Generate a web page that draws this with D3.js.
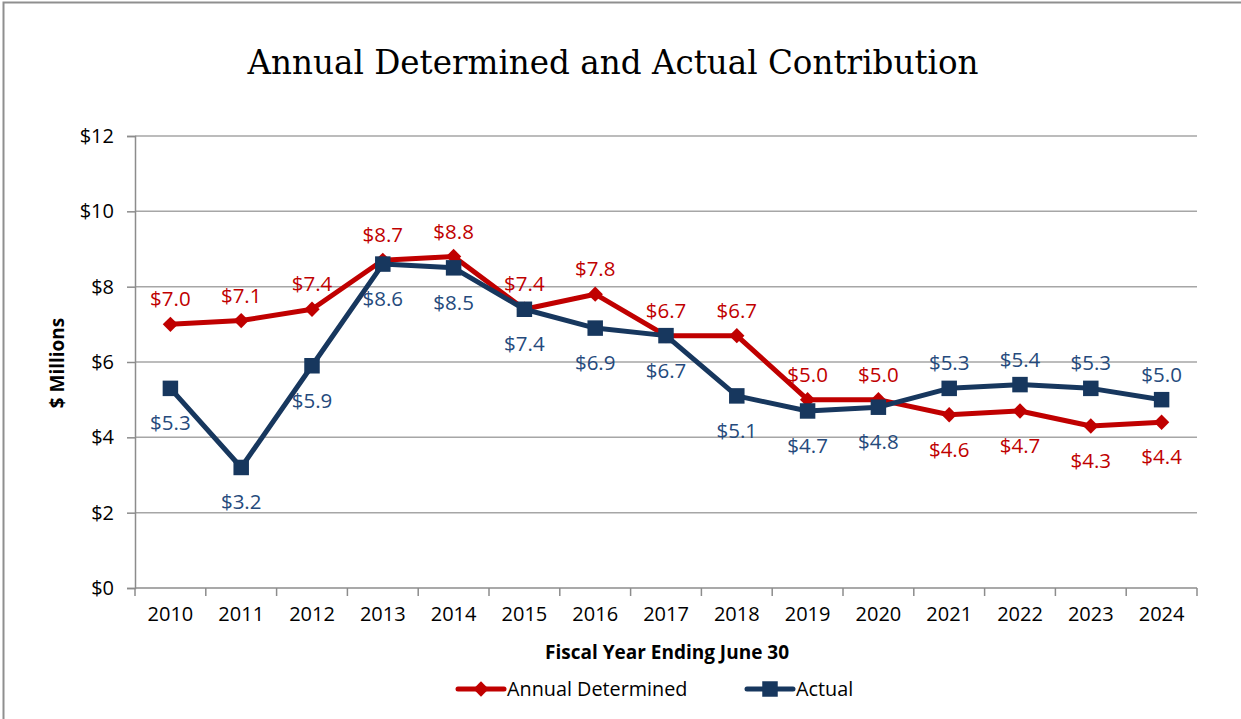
<!DOCTYPE html>
<html>
<head>
<meta charset="utf-8">
<script src="https://cdn.jsdelivr.net/npm/d3@7"></script>
<style>
  html, body { margin: 0; padding: 0; background: #fff; }
  svg { display: block; }
</style>
</head>
<body>
<svg id="chart" width="1241" height="719"></svg>
<script>
// Fiscal years and contribution amounts ($ millions)
const years = ["2010","2011","2012","2013","2014","2015","2016","2017","2018","2019","2020","2021","2022","2023","2024"];
const determined = [7.0, 7.1, 7.4, 8.7, 8.8, 7.4, 7.8, 6.7, 6.7, 5.0, 5.0, 4.6, 4.7, 4.3, 4.4];
const actual     = [5.3, 3.2, 5.9, 8.6, 8.5, 7.4, 6.9, 6.7, 5.1, 4.7, 4.8, 5.3, 5.4, 5.3, 5.0];
const yTicks = [0, 2, 4, 6, 8, 10, 12];
// which side of each point its value label sits on
const determinedLabelSide = ["up","up","up","up","up","up","up","up","up","up","up","down","down","down","down"];
const actualLabelSide     = ["down","down","down","down","down","down","down","down","down","down","down","up","up","up","up"];

const RED = "#C00000", NAVY = "#17375E", NAVY_TEXT = "#254A7C";
const FONT = "'Open Sans', sans-serif";
const svg = d3.select("#chart");
const margin = { left: 135, right: 1197, top: 136, bottom: 588 };

// outer frame
svg.append("rect").attr("x", 3.5).attr("y", 2.5).attr("width", 1260).attr("height", 740)
  .attr("fill", "none").attr("stroke", "#8f8f8f").attr("stroke-width", 2);

const x = d3.scaleBand().domain(years).range([margin.left, margin.right]);
const y = d3.scaleLinear().domain([0, 12]).range([margin.bottom, margin.top]);
const cx = d => x(d) + x.bandwidth() / 2;

// gridlines
svg.append("g").selectAll("line").data(yTicks.filter(t => t > 0)).join("line")
  .attr("x1", margin.left).attr("x2", margin.right)
  .attr("y1", d => y(d)).attr("y2", d => y(d))
  .attr("stroke", "#a6a6a6").attr("stroke-width", 1.5);

// y axis
const yAxis = svg.append("g").attr("transform", `translate(${margin.left},0)`)
  .call(d3.axisLeft(y).tickValues(yTicks).tickSize(8).tickPadding(13).tickFormat(d => "$" + d));
yAxis.select(".domain").attr("stroke", "#8c8c8c").attr("stroke-width", 1.5);
yAxis.selectAll(".tick line").attr("stroke", "#8c8c8c").attr("stroke-width", 1.5);
yAxis.selectAll(".tick text").attr("font-family", FONT).attr("font-size", 20).attr("fill", "#000");

// x axis with ticks between categories
const xAxis = svg.append("g").attr("transform", `translate(0,${margin.bottom})`)
  .call(d3.axisBottom(x).tickSize(0).tickPadding(19));
xAxis.select(".domain").remove();
xAxis.append("line").attr("x1", margin.left).attr("x2", margin.right).attr("y1", 0).attr("y2", 0)
  .attr("stroke", "#8c8c8c").attr("stroke-width", 1.5);
xAxis.selectAll(".sep").data(years.concat(["end"])).join("line").attr("class", "sep")
  .attr("x1", (d, i) => margin.left + i * x.step()).attr("x2", (d, i) => margin.left + i * x.step())
  .attr("y1", 0).attr("y2", 8).attr("stroke", "#8c8c8c").attr("stroke-width", 1.5);
xAxis.selectAll(".tick text").attr("font-family", FONT).attr("font-size", 20).attr("fill", "#000");

// titles
svg.append("text").attr("x", 613).attr("y", 74).attr("text-anchor", "middle")
  .attr("font-family", "'DejaVu Serif', serif").attr("font-size", 32.6).attr("fill", "#000")
  .text("Annual Determined and Actual Contribution");
svg.append("text").attr("x", 667).attr("y", 659).attr("text-anchor", "middle")
  .attr("font-family", FONT).attr("font-weight", "bold").attr("font-size", 19)
  .text("Fiscal Year Ending June 30");
svg.append("text").attr("transform", "translate(64,363) rotate(-90)").attr("text-anchor", "middle")
  .attr("font-family", FONT).attr("font-weight", "bold").attr("font-size", 19)
  .text("$ Millions");

const line = d3.line().x((d, i) => cx(years[i])).y(d => y(d));
const diamond = d3.symbol().type(d3.symbolDiamond2).size(150);
const square = d3.symbol().type(d3.symbolSquare).size(240);

function drawSeries(values, color, sym, labelColor, sides) {
  svg.append("path").datum(values).attr("d", line).attr("fill", "none")
    .attr("stroke", color).attr("stroke-width", 5).attr("stroke-linejoin", "round");
  svg.append("g").selectAll("path").data(values).join("path")
    .attr("d", sym).attr("fill", color)
    .attr("transform", (d, i) => `translate(${cx(years[i])},${y(d)})`);
  svg.append("g").selectAll("text").data(values).join("text")
    .attr("x", (d, i) => cx(years[i]))
    .attr("y", (d, i) => y(d) + (sides[i] === "up" ? -18 : 42))
    .attr("text-anchor", "middle")
    .attr("font-family", FONT).attr("font-size", 20.5).attr("fill", labelColor)
    .text(d => "$" + d.toFixed(1));
}

drawSeries(determined, RED, diamond, RED, determinedLabelSide);
drawSeries(actual, NAVY, square, NAVY_TEXT, actualLabelSide);

// legend
const legend = [
  { name: "Annual Determined", color: RED, sym: diamond, x: 458 },
  { name: "Actual", color: NAVY, sym: square, x: 747 }
];
const lg = svg.append("g").selectAll("g").data(legend).join("g")
  .attr("transform", d => `translate(${d.x},689)`);
lg.append("line").attr("x1", 0).attr("x2", 46).attr("stroke", d => d.color)
  .attr("stroke-width", 5).attr("stroke-linecap", "round");
lg.append("path").attr("d", d => d.sym()).attr("fill", d => d.color).attr("transform", "translate(23,0)");
lg.append("text").attr("x", 49).attr("y", 7).attr("font-family", FONT)
  .attr("font-size", 19.8).attr("fill", "#000").text(d => d.name);
</script>
</body>
</html>
